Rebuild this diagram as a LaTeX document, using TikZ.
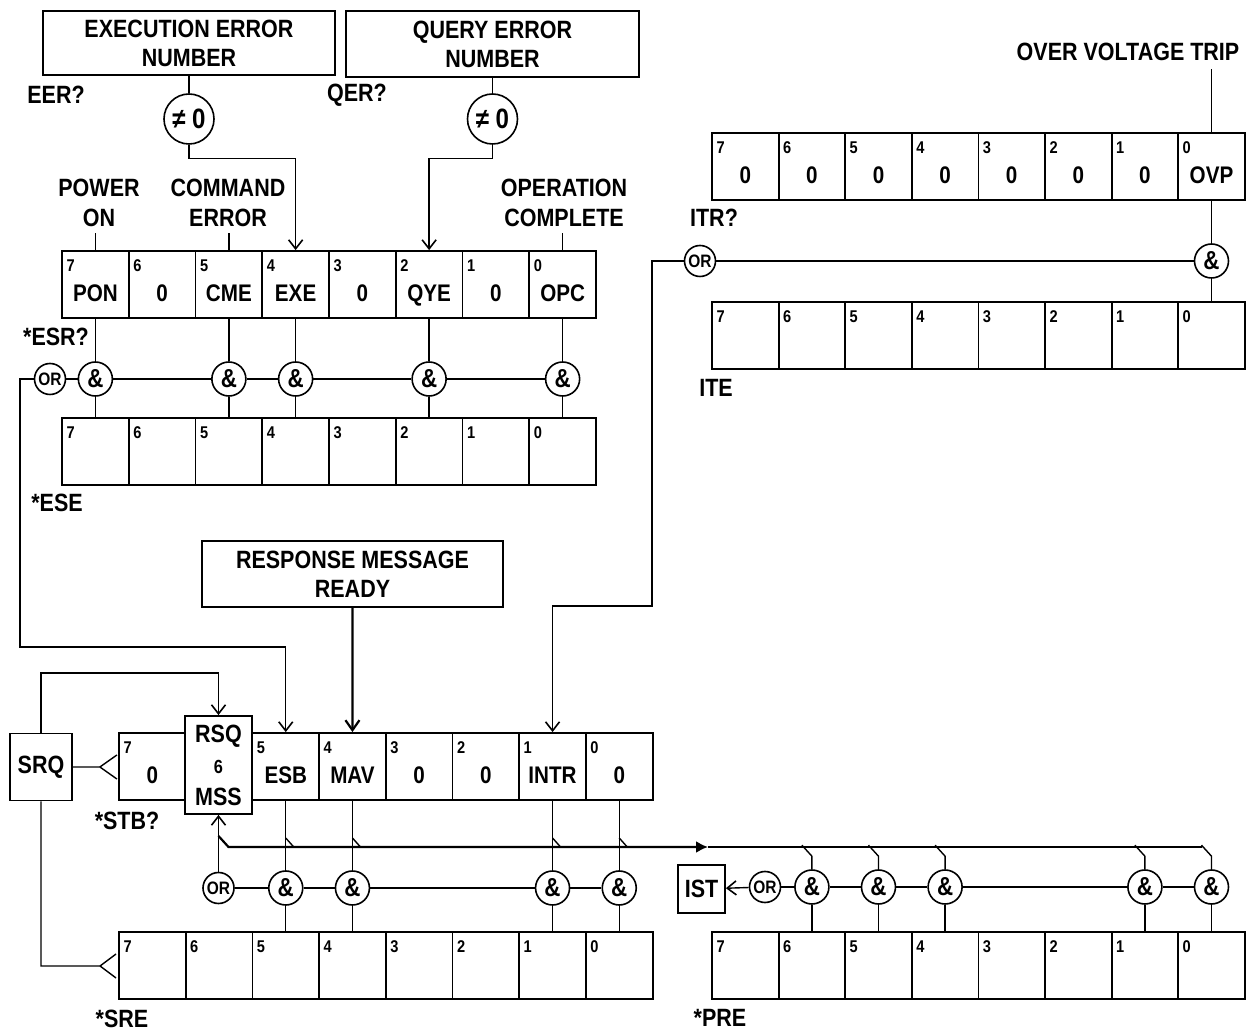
\documentclass[tikz,border=0pt]{standalone}
\usepackage{fontspec}
\setmainfont{Liberation Sans}[FakeStretch=0.86]
\usetikzlibrary{arrows.meta,calc}
\newcommand\myreg[5]{%
  \foreach \dg/\sh/\vv [count=\i from 0] in {#5}{%
    \node[cell, minimum width=#4*0.5pt] (#1\dg) at ({#2+(\i+0.5)*#4},{#3+33.5}) {};
    \node[idx] at ([xshift=2.5pt,yshift=-10.5pt]#1\dg.north west) {\sh};
    \node[val] at ([yshift=-8.5pt]#1\dg.center) {\vv};
  }}
\begin{document}
\begin{tikzpicture}[x=0.5pt,y=-0.5pt,
  every node/.style={inner sep=0pt, font=\bfseries},
  cell/.style={draw, line width=0.9pt, minimum height=33.5pt},
  idx/.style={anchor=base west, font=\bfseries\fontsize{8.5}{9}\selectfont},
  val/.style={anchor=base, font=\bfseries\fontsize{12}{13}\selectfont},
  box/.style={draw, line width=0.9pt, align=center, font=\bfseries\fontsize{12.5}{14.5}\selectfont},
  lbl/.style={align=center, font=\bfseries\fontsize{12.5}{15}\selectfont},
  gate/.style={draw, circle, line width=0.8pt, minimum size=17pt, font=\bfseries\fontsize{13}{13}\selectfont},
  orgate/.style={draw, circle, line width=0.8pt, minimum size=15.5pt, font=\bfseries\fontsize{9}{9}\selectfont},
  neqgate/.style={draw, circle, line width=0.8pt, minimum size=25pt, font=\bfseries\fontsize{14}{14}\selectfont},
  wire/.style={line width=0.7pt},
  arr/.style={wire, -{Straight Barb[length=4.5pt,width=7pt,line width=0.8pt]}},
  bigarr/.style={line width=1.1pt, -{Straight Barb[length=5pt,width=7pt,line width=1.1pt]}},
  triarr/.style={line width=1.1pt, -{Latex[length=6pt,width=6pt]}},
]
\useasboundingbox (0,0) rectangle (1254,1031);

% ---------- top boxes ----------
\node[box, minimum width=146pt, minimum height=32pt] (eeb) at (189,43) {EXECUTION ERROR\\NUMBER};
\node[box, minimum width=146.5pt, minimum height=33pt] (qeb) at (492.5,44) {QUERY ERROR\\NUMBER};
\node[neqgate] (ne1) at (189,119) {≠ 0};
\node[neqgate] (ne2) at (492.5,119) {≠ 0};
\node[lbl] at (56,95) {EER?};
\node[lbl] at (357,95) {QER?};

\node[lbl] (pon) at (99,203) {POWER\\ON};
\node[lbl] (cmd) at (228,203) {COMMAND\\ERROR};
\node[lbl] (opc) at (564,203) {OPERATION\\COMPLETE};

% ---------- registers ----------
\myreg{esr}{62}{251}{66.75}{7/7/PON,6/6/0,5/5/CME,4/4/EXE,3/3/0,2/2/QYE,1/1/0,0/0/OPC}
\myreg{ese}{62}{418}{66.75}{7/7/{},6/6/{},5/5/{},4/4/{},3/3/{},2/2/{},1/1/{},0/0/{}}
\myreg{itr}{712}{133}{66.6}{7/7/0,6/6/0,5/5/0,4/4/0,3/3/0,2/2/0,1/1/0,0/0/OVP}
\myreg{ite}{712}{302}{66.6}{7/7/{},6/6/{},5/5/{},4/4/{},3/3/{},2/2/{},1/1/{},0/0/{}}
\myreg{stb}{119}{733}{66.7}{7/7/0,6/{}/{},5/5/ESB,4/4/MAV,3/3/0,2/2/0,1/1/INTR,0/0/0}
\myreg{sre}{119}{932}{66.7}{7/7/{},6/6/{},5/5/{},4/4/{},3/3/{},2/2/{},1/1/{},0/0/{}}
\myreg{pre}{712}{932}{66.6}{7/7/{},6/6/{},5/5/{},4/4/{},3/3/{},2/2/{},1/1/{},0/0/{}}

\node[lbl] at (56,337) {*ESR?};
\node[lbl] at (57,503) {*ESE};
\node[lbl] at (714,218) {ITR?};
\node[lbl] at (716,388) {ITE};
\node[lbl] at (127,821) {*STB?};
\node[lbl] at (122,1019) {*SRE};
\node[lbl] at (720,1018) {*PRE};
\node[lbl] (ovt) at (1128,52) {OVER VOLTAGE TRIP};

% RSQ / MSS box
\node[draw, line width=0.9pt, fill=white, minimum width=33.5pt, minimum height=49pt] (rsq) at (218.5,765) {};
\node[font=\bfseries\fontsize{12.5}{13}\selectfont] at (218.5,736) {RSQ};
\node[font=\bfseries\fontsize{9.5}{10}\selectfont] at (218.5,767) {6};
\node[font=\bfseries\fontsize{12.5}{13}\selectfont] at (218.5,797) {MSS};

\node[draw, line width=0.9pt, minimum width=31pt, minimum height=33.5pt, font=\bfseries\fontsize{12.5}{13}\selectfont] (srq) at (41,767) {SRQ};
\node[draw, line width=0.9pt, minimum width=23.5pt, minimum height=24pt, font=\bfseries\fontsize{12.5}{13}\selectfont] (ist) at (701.5,889) {IST};
\node[box, minimum width=150.5pt, minimum height=33pt] (rmr) at (352.5,574) {RESPONSE MESSAGE\\READY};

% ---------- gates ----------
\node[orgate] (ore) at (50,379) {OR};
\foreach \k in {7,5,4,2,0} \node[gate] (ae\k) at (esr\k.center |- 0,379) {\&};
\node[orgate] (ori) at (700,261) {OR};
\node[gate] (ai0) at (itr0.center |- 0,261) {\&};
\node[orgate] (ors) at (218.5,888) {OR};
\foreach \k in {5,4,1,0} \node[gate] (as\k) at (stb\k.center |- 0,888) {\&};
\node[orgate] (orp) at (765,887) {OR};
\foreach \k in {6,5,4,1,0} \node[gate] (ap\k) at (pre\k.center |- 0,887) {\&};

% ---------- connectors ----------
\draw[wire] (eeb) -- (ne1);
\draw[wire] (qeb) -- (ne2);
\draw[arr] (ne1.south) -- ++(0,14) -| (esr4.north);
\draw[arr] (ne2.south) -- ++(0,14) -| (esr2.north);
\draw[wire] (esr7.north) -- ++(0,-17);
\draw[wire] (esr5.north) -- ++(0,-17);
\draw[wire] (esr0.north) -- ++(0,-17);

\foreach \k in {7,5,4,2,0}{
  \draw[wire] (esr\k.south) -- (ae\k.north);
  \draw[wire] (ae\k.south) -- (ese\k.north);
}
\draw[wire] (ore) -- (ae7) -- (ae5) -- (ae4) -- (ae2) -- (ae0);

\draw[wire] (itr0.north) -- ++(0,-63);
\draw[wire] (itr0.south) -- (ai0.north);
\draw[wire] (ai0.south) -- (ite0.north);
\draw[line width=1.1pt] (ori) -- (ai0);

\coordinate (j1) at (20,647);
\draw[arr] (ore.west) -| (j1) -| (stb5.north);
\coordinate (j2) at (652,606);
\draw[arr] (ori.west) -| (j2) -| (stb1.north);
\draw[bigarr] (rmr.south) -- (stb4.north);

\draw[arr] (srq.north) |- ([yshift=21pt]rsq.north) -- (rsq.north);
\draw[wire] (srq.east) -- ++(27,0) coordinate (f1) -- ++(17,-12) (f1) -- ++(17,12);
\coordinate (f2) at (100,966);
\draw[wire] (srq.south) |- (f2) -- ++(16,-12) (f2) -- ++(16,12);

\draw[arr] (ors.north) -- (rsq.south);
\foreach \k in {5,4,1,0}{
  \draw[wire] (stb\k.south) -- (as\k.north);
  \draw[wire] (as\k.south) -- (sre\k.north);
  \draw[wire] (stb\k.south |- 0,838) -- ++(8,9);
}
\draw[wire] (ors) -- (as5) -- (as4) -- (as1) -- (as0);

\coordinate (h0) at (218.5,836);
\coordinate (h1) at (708,847);
\coordinate (h2) at (1202,847);
\draw[triarr] (h0) -- ++(10,11) -- (h1);
\draw[wire] (h1) -- (h2);
\foreach \k in {6,5,4,1,0}{
  \draw[wire] (ap\k.north) -- ++(0,-13) -- ++(-10,-11);
  \draw[wire] (ap\k.south) -- (pre\k.north);
}
\draw[arr] (orp) -- (ist);
\draw[wire] (orp) -- (ap6) -- (ap5) -- (ap4) -- (ap1) -- (ap0);
\end{tikzpicture}
\end{document}
